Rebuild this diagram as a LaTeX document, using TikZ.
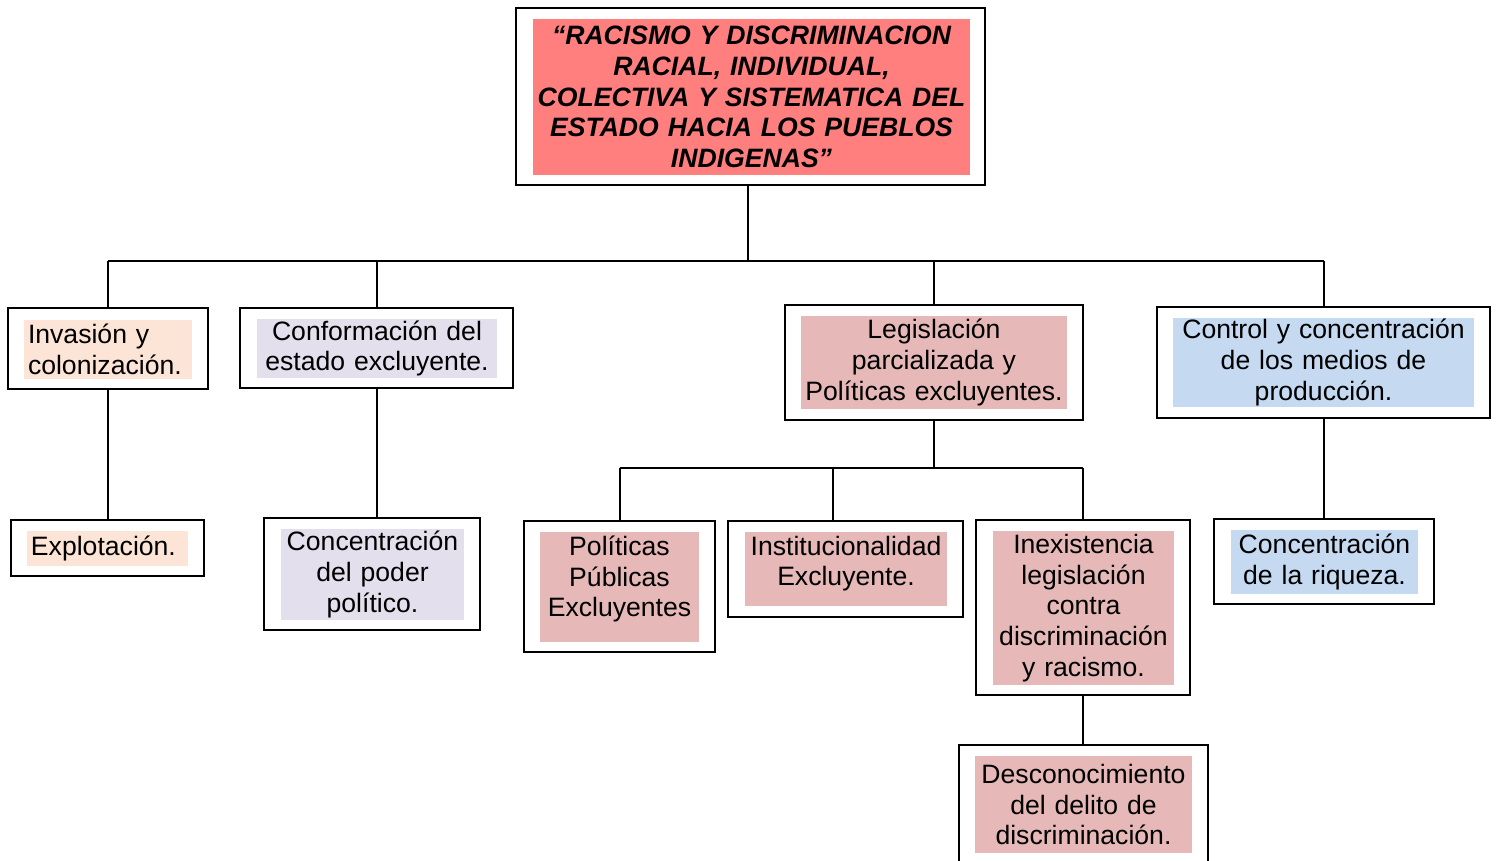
\documentclass[tikz,border=0pt]{standalone}
\usepackage{fontspec}
\setmainfont{Liberation Sans}
\usepackage{xcolor}
\usetikzlibrary{positioning,calc}

\definecolor{rojoTitulo}{HTML}{FF7F7F}
\definecolor{durazno}{HTML}{FCE4D6}
\definecolor{lavanda}{HTML}{E4DFEC}
\definecolor{rosado}{HTML}{E6B8B7}
\definecolor{celeste}{HTML}{C5D9F1}

\begin{document}
\begin{tikzpicture}[x=0.5pt, y=-0.5pt, every node/.style={font=\fontsize{13.3}{15.3}\selectfont}]
    \tikzstyle{caja} = [rectangle, draw, line width=1pt, fill=white, inner sep=0pt]
    \tikzstyle{relleno} = [rectangle, inner sep=0pt, align=center]
    \tikzstyle{rellenoizq} = [rectangle, inner xsep=2pt, inner ysep=0pt, align=left]
    \tikzstyle{enlace} = [line width=1pt]

    \useasboundingbox (0,0) rectangle (1496,861);
    \clip (0,0) rectangle (1496,861);

    % Cajas exteriores
    \node[caja, minimum width=234.5pt, minimum height=88.5pt] (titulo) at (750.5,96.5) {};
    \node[caja, minimum width=100pt, minimum height=40.5pt] (invasion) at (108,348.5) {};
    \node[caja, minimum width=96.5pt, minimum height=28pt] (explotacion) at (107.5,548) {};
    \node[caja, minimum width=136.5pt, minimum height=40pt] (conformacion) at (376.5,348) {};
    \node[caja, minimum width=108pt, minimum height=56pt] (poder) at (372,574) {};
    \node[caja, minimum width=149pt, minimum height=57.5pt] (legislacion) at (934,362.5) {};
    \node[caja, minimum width=95.5pt, minimum height=65.5pt] (politicas) at (619.5,586.5) {};
    \node[caja, minimum width=117.5pt, minimum height=48pt] (institucionalidad) at (845.5,569) {};
    \node[caja, minimum width=107pt, minimum height=87.5pt] (inexistencia) at (1083,607.5) {};
    \node[caja, minimum width=124.5pt, minimum height=65pt] (desconocimiento) at (1083.5,810) {};
    \node[caja, minimum width=166.5pt, minimum height=55.5pt] (control) at (1323.5,362.5) {};
    \node[caja, minimum width=110pt, minimum height=42.5pt] (riqueza) at (1324,561.5) {};

    % Rellenos con texto
    \node[relleno, fill=rojoTitulo, text width=218.5pt, minimum height=78pt,
          font={\fontsize{13.3}{15.4}\selectfont\bfseries\itshape}] at (751.5,97) {
        “RACISMO Y DISCRIMINACION\\
        RACIAL, INDIVIDUAL,\\
        COLECTIVA Y SISTEMATICA DEL\\
        ESTADO HACIA LOS PUEBLOS\\
        INDIGENAS”
    };
    \node[rellenoizq, fill=durazno, text width=80pt, minimum height=29.5pt] at (108,349.5) {
        Invasión y\\
        colonización.
    };
    \node[rellenoizq, fill=durazno, text width=76.5pt, minimum height=17.5pt] at (107.5,548.5) {Explotación.};
    \node[relleno, fill=lavanda, text width=120pt, minimum height=29.5pt] at (377,348.5) {
        Conformación del\\
        estado excluyente.
    };
    \node[relleno, fill=lavanda, text width=91.5pt, minimum height=45.5pt] at (372.5,574.5) {
        Concentración\\
        del poder\\
        político.
    };
    \node[relleno, fill=rosado, text width=133pt, minimum height=46.5pt] at (934,362.5) {
        Legislación\\
        parcializada y\\
        Políticas excluyentes.
    };
    \node[relleno, fill=rosado, minimum width=79.5pt, minimum height=55pt] at (619.5,587) {};
    \node[relleno, text width=79.5pt] at (619.5,579) {
        Políticas\\
        Públicas\\
        Excluyentes
    };
    \node[relleno, fill=rosado, minimum width=101pt, minimum height=37pt] at (846,569) {};
    \node[relleno, text width=101pt] at (846,563.5) {
        Institucionalidad\\
        Excluyente.
    };
    \node[relleno, fill=rosado, text width=90.5pt, minimum height=77pt] at (1083.5,608) {
        Inexistencia\\
        legislación\\
        contra\\
        discriminación\\
        y racismo.
    };
    \node[relleno, fill=rosado, text width=108.5pt, minimum height=48.5pt] at (1083.5,804.5) {
        Desconocimiento\\
        del delito de\\
        discriminación.
    };
    \node[relleno, fill=celeste, text width=150.5pt, minimum height=44.5pt] at (1323.5,362.5) {
        Control y concentración\\
        de los medios de\\
        producción.
    };
    \node[relleno, fill=celeste, text width=93.5pt, minimum height=32pt] at (1324.5,562) {
        Concentración\\
        de la riqueza.
    };

    % Conexiones
    \coordinate (nivel1) at (0,261);
    \coordinate (nivel2) at (0,468);
    \draw[enlace] ([xshift=-1.25pt]titulo.south) -- ([xshift=-1.25pt]titulo.south |- nivel1);
    \draw[enlace] (invasion.north |- nivel1) -- (control.north |- nivel1);
    \foreach \rama in {invasion, conformacion, legislacion, control}
        \draw[enlace] (\rama.north) -- (\rama.north |- nivel1);
    \draw[enlace] (invasion.south) -- (invasion.south |- explotacion.north);
    \draw[enlace] (conformacion.south) -- (conformacion.south |- poder.north);
    \draw[enlace] (control.south) -- (control.south |- riqueza.north);

    \draw[enlace] (legislacion.south) -- (legislacion.south |- nivel2);
    \draw[enlace] (politicas.north |- nivel2) -- (inexistencia.north |- nivel2);
    \draw[enlace] (politicas.north) -- (politicas.north |- nivel2);
    \draw[enlace] ([xshift=-6.5pt]institucionalidad.north) -- ([xshift=-6.5pt]institucionalidad.north |- nivel2);
    \draw[enlace] (inexistencia.north) -- (inexistencia.north |- nivel2);
    \draw[enlace] (inexistencia.south) -- (inexistencia.south |- desconocimiento.north);
\end{tikzpicture}
\end{document}
